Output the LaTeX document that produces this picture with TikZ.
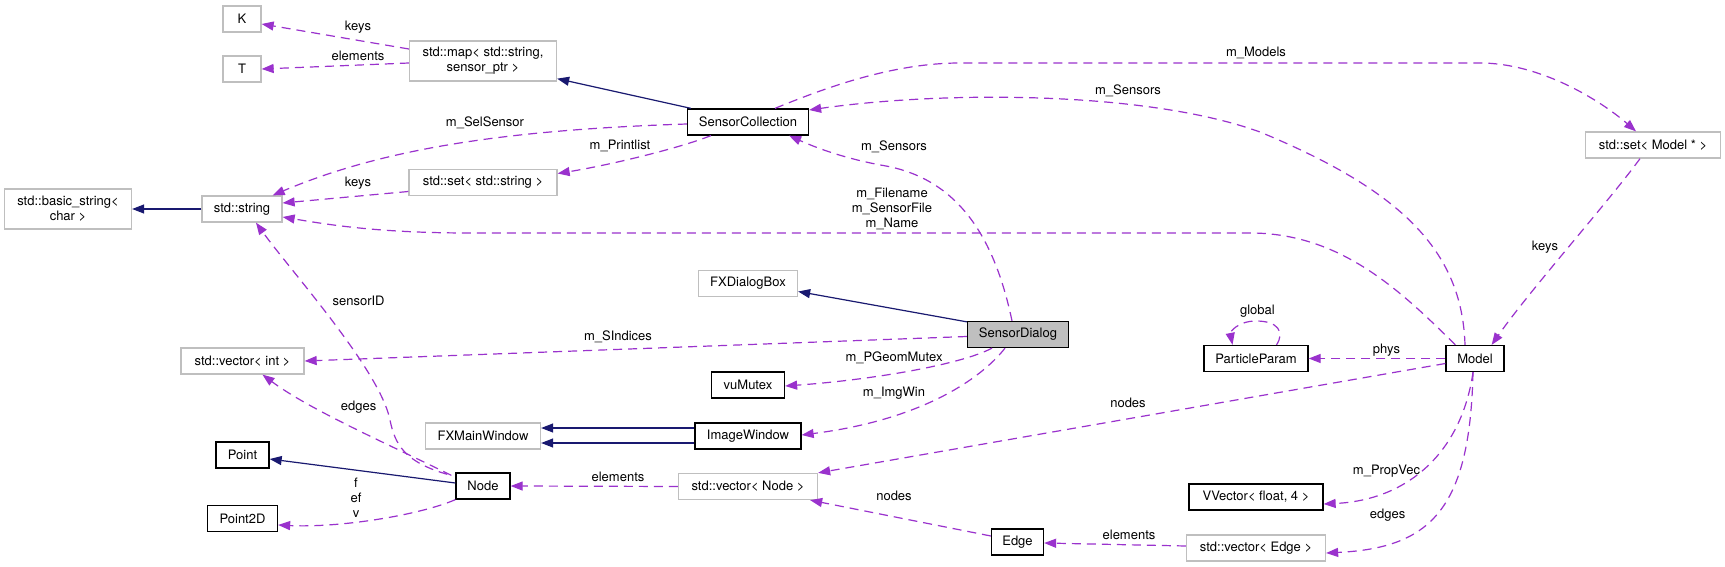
\documentclass[tikz,border=0pt]{standalone}
\usepackage{fontspec}
\setmainfont{TeX Gyre Heros}
\usetikzlibrary{arrows.meta,calc}
\definecolor{purp}{HTML}{9A32CD}
\definecolor{navyc}{HTML}{191970}
\definecolor{greyb}{HTML}{BFBFBF}
\newcommand{\fs}{\fontsize{13pt}{15pt}\selectfont}
\tikzset{
  cls/.style={draw=black, line width=1.3pt, fill=white, inner sep=0pt, minimum height=26pt, font=\fs, align=center},
  ext/.style={cls, draw=greyb},
  cur/.style={cls, fill=greyb},
  inh/.style={draw=navyc, line width=1.2pt, -{Triangle[length=12pt,width=9pt]}},
  use/.style={draw=purp, line width=1.2pt, dash pattern=on 9pt off 6pt, -{Triangle[length=12pt,width=9pt]}},
  lbl/.style={font=\fs, inner sep=0pt, align=center}
}
\begin{document}
\begin{tikzpicture}[x=1pt,y=-1pt]
\useasboundingbox[fill=white] (0,0) rectangle (1725,567);

% nodes
\node[ext, minimum width=38pt] (K) at (242,19) {K};
\node[ext, minimum width=38pt] (T) at (242,69) {T};
\node[ext, minimum width=147pt, minimum height=40pt] (map) at (483,61) {std::map< std::string,\\ sensor\_ptr >};
\node[cls, minimum width=121pt] (sc) at (748,122) {SensorCollection};
\node[ext, minimum width=127pt, minimum height=40pt] (basic) at (68,209) {std::basic\_string<\\ char >};
\node[ext, minimum width=80pt] (str) at (242,209) {std::string};
\node[ext, minimum width=148pt] (setstr) at (483,182.5) {std::set< std::string >};
\node[ext, minimum width=135pt] (setmodel) at (1653,145) {std::set< Model * >};
\node[ext, minimum width=99pt] (fxdlg) at (748,283.5) {FXDialogBox};
\node[cur, minimum width=101pt] (sd) at (1018,334.5) {SensorDialog};
\node[ext, minimum width=123pt] (vint) at (242.5,361) {std::vector< int >};
\node[cls, minimum width=104pt] (pp) at (1256,358.5) {ParticleParam};
\node[cls, minimum width=58pt] (model) at (1475,358.5) {Model};
\node[cls, minimum width=73pt] (vumutex) at (748,385) {vuMutex};
\node[ext, minimum width=115pt] (fxmain) at (483,436) {FXMainWindow};
\node[cls, minimum width=106pt] (imgwin) at (748,436) {ImageWindow};
\node[cls, minimum width=53pt] (point) at (242.5,455) {Point};
\node[cls, minimum width=54pt] (node) at (483,486) {Node};
\node[ext, minimum width=139pt] (vnode) at (748,486.5) {std::vector< Node >};
\node[cls, minimum width=70pt] (point2d) at (242.5,518.5) {Point2D};
\node[cls, minimum width=134pt] (vvec) at (1256,497) {VVector< float, 4 >};
\node[cls, minimum width=52pt] (edge) at (1017.5,542) {Edge};
\node[ext, minimum width=139pt] (vedge) at (1256,548) {std::vector< Edge >};

% edges
\draw[use] ($(map.west)+(0,-12)$) -- ($(K.east)+(0,5)$);
\node[lbl] (l1) at (358,27) {keys};
\draw[use] ($(map.west)+(0,2)$) -- (T.east);
\node[lbl] (l2) at (358,56) {elements};
\draw[inh] ($(sc.north west)+(4,0)$) -- ($(map.south east)+(0,-3)$);
\draw[use] ($(sc.west)+(0,2)$) .. controls (500,130) and (380,150) .. ($(str.north east)+(-10,0)$);
\node[lbl] (l3) at (485,123) {m\_SelSensor};
\draw[use] ($(sc.south west)+(24,0)$) .. controls (680,148) and (610,165) .. ($(setstr.east)+(0,-9)$);
\node[lbl] (l4) at (620,146) {m\_Printlist};
\draw[use] ($(setstr.west)+(0,9)$) -- ($(str.east)+(0,-6)$);
\node[lbl] (l5) at (358,183) {keys};
\draw[inh] (str.west) -- (basic.east);
\draw[use] ($(model.north west)+(10,0)$) .. controls (1400,290) and (1340,233) .. (1250,233) -- (470,233) .. controls (380,233) and (330,225) .. ($(str.east)+(0,8)$);
\node[lbl] (l6) at (892,209) {m\_Filename\\m\_SensorFile\\m\_Name};
\draw[use] ($(model.north)+(-10,0)$) .. controls (1462,250) and (1400,190) .. (1260,132) .. controls (1150,92) and (950,90) .. ($(sc.east)+(0,-12)$);
\node[lbl] (l7) at (1128,91) {m\_Sensors};
\draw[use] ($(sc.north)+(27,0)$) .. controls (820,90) and (890,63) .. (960,63) -- (1480,63) .. controls (1540,63) and (1600,100) .. ($(setmodel.north)+(-17,0)$);
\node[lbl] (l8) at (1256,53) {m\_Models};
\draw[use] ($(setmodel.south)+(-13,0)$) .. controls (1610,200) and (1530,290) .. ($(model.north east)+(-13,0)$);
\node[lbl] (l9) at (1545,247) {keys};
\draw[use] ($(sd.north)+(-6,0)$) .. controls (995,240) and (960,180) .. (886,166) .. controls (840,158) and (810,145) .. ($(sc.south east)+(-20,0)$);
\node[lbl] (l10) at (894,147) {m\_Sensors};
\draw[inh] ($(sd.north west)+(0,1)$) -- ($(fxdlg.east)+(0,8)$);
\draw[use] ($(sd.west)+(0,2)$) -- (vint.east);
\node[lbl] (l11) at (618,337) {m\_SIndices};
\draw[use] ($(sd.south)+(-26,0)$) .. controls (960,365) and (870,380) .. ($(vumutex.east)+(0,1)$);
\node[lbl] (l12) at (894,358) {m\_PGeomMutex};
\draw[use] ($(sd.south)+(-13,0)$) .. controls (980,380) and (920,420) .. ($(imgwin.east)+(0,-1)$);
\node[lbl] (l13) at (894,393) {m\_ImgWin};
\draw[inh] ($(imgwin.west)+(0,-8)$) -- ($(fxmain.east)+(0,-8)$);
\draw[inh] ($(imgwin.west)+(0,7)$) -- ($(fxmain.east)+(0,7)$);
\draw[inh] ($(node.west)+(0,-3)$) -- ($(point.east)+(0,4)$);
\draw[use] ($(node.north west)+(-4,3)$) .. controls (390,445) and (310,410) .. ($(vint.south)+(20,0)$);
\node[lbl] (l14) at (358.6,407) {edges};
\draw[use] ($(node.north west)+(-8,2)$) .. controls (405,462) and (395,445) .. (390,420) .. controls (380,370) and (290,270) .. ($(str.south)+(14,0)$);
\node[lbl] (l15) at (358.6,301) {sensorID};
\draw[use] (node.south west) .. controls (420,515) and (340,528) .. ($(point2d.east)+(0,6.5)$);
\node[lbl] (l16) at (356,498) {f\\ef\\v};
\draw[use] (vnode.west) -- (node.east);
\node[lbl] (l17) at (618,477) {elements};
\draw[use] ($(model.west)+(0,5)$) -- (vnode.north east);
\node[lbl] (l18) at (1128,403) {nodes};
\draw[use] ($(edge.west)+(0,-6)$) -- ($(vnode.south east)+(-8,0)$);
\node[lbl] (l19) at (894,496) {nodes};
\draw[use] ($(vedge.west)+(0,-2)$) -- ($(edge.east)+(0,1)$);
\node[lbl] (l20) at (1129,535) {elements};
\draw[use] (model.west) -- (pp.east);
\node[lbl] (l21) at (1386.5,350) {phys};
\draw[use] ($(pp.north)+(20.5,0)$) .. controls (1285,332) and (1278,321) .. (1256,321) .. controls (1238,321) and (1230,332) .. ($(pp.north)+(-23.5,0)$);
\node[lbl] (l22) at (1257.4,311) {global};
\draw[use] ($(model.south)+(-2,0)$) .. controls (1462,450) and (1410,500) .. ($(vvec.east)+(0,7)$);
\node[lbl] (l23) at (1386.5,471) {m\_PropVec};
\draw[use] ($(model.south)+(-2,0)$) .. controls (1470,510) and (1430,548) .. ($(vedge.east)+(0,5)$);
\node[lbl] (l24) at (1387.6,515) {edges};
\end{tikzpicture}
\end{document}
